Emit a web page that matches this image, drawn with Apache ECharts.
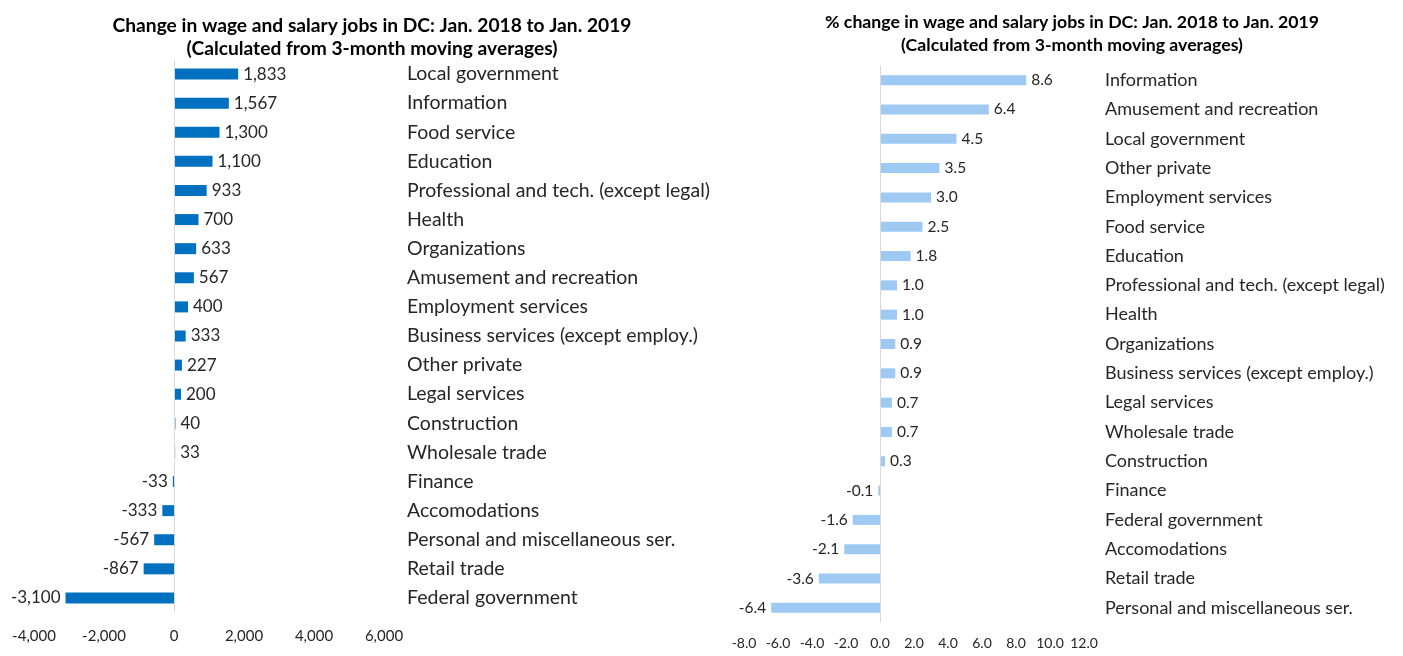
<!DOCTYPE html>
<html>
<head>
<meta charset="utf-8">
<script src="https://cdn.jsdelivr.net/npm/echarts@6/dist/echarts.min.js"></script>
<style>
  html, body { margin: 0; padding: 0; background: #fff; }
  #chart { width: 1403px; height: 656px; }
</style>
</head>
<body>
<div id="chart"></div>
<script>
// Change in jobs, sorted largest to smallest
const jobCategories = [
  'Local government', 'Information', 'Food service', 'Education',
  'Professional and tech. (except legal)', 'Health', 'Organizations',
  'Amusement and recreation', 'Employment services',
  'Business services (except employ.)', 'Other private', 'Legal services',
  'Construction', 'Wholesale trade', 'Finance', 'Accomodations',
  'Personal and miscellaneous ser.', 'Retail trade', 'Federal government'
];
const jobChange = [1833, 1567, 1300, 1100, 933, 700, 633, 567, 400, 333, 227, 200, 40, 33, -33, -333, -567, -867, -3100];
const jobTicks = { min: -4000, max: 6000, interval: 2000 };

// Percent change in jobs, sorted largest to smallest
const pctCategories = [
  'Information', 'Amusement and recreation', 'Local government', 'Other private',
  'Employment services', 'Food service', 'Education',
  'Professional and tech. (except legal)', 'Health', 'Organizations',
  'Business services (except employ.)', 'Legal services', 'Wholesale trade',
  'Construction', 'Finance', 'Federal government', 'Accomodations',
  'Retail trade', 'Personal and miscellaneous ser.'
];
const pctChange = [8.6, 6.4, 4.5, 3.5, 3.0, 2.5, 1.8, 1.0, 1.0, 0.9, 0.9, 0.7, 0.7, 0.3, -0.1, -1.6, -2.1, -3.6, -6.4];
const pctTicks = { min: -8, max: 12, interval: 2 };

const FONT = 'Lato';
const TEXT = '#262626';

function withComma(v) {
  const s = Math.abs(Math.round(v)).toString().replace(/\B(?=(\d{3})+(?!\d))/g, ',');
  return (v < 0 ? '-' : '') + s;
}

function barData(values) {
  return values.map(v => ({
    value: v,
    label: { position: v < 0 ? 'left' : 'right' }
  }));
}

function zeroLine() {
  return {
    silent: true,
    symbol: 'none',
    label: { show: false },
    lineStyle: { color: '#d9d9d9', width: 1, type: 'solid' },
    data: [{ xAxis: 0 }]
  };
}

const chart = echarts.init(document.getElementById('chart'), null, { renderer: 'canvas' });

chart.setOption({
  animation: false,
  backgroundColor: '#ffffff',
  textStyle: { fontFamily: FONT },
  title: [
    {
      text: 'Change in wage and salary jobs in DC: Jan. 2018 to Jan. 2019\n(Calculated from 3-month moving averages)',
      left: 367, top: 9, textAlign: 'center',
      textStyle: { fontFamily: FONT, fontWeight: 'bold', fontSize: 19.2, lineHeight: 23, color: '#000' }
    },
    {
      text: '% change in wage and salary jobs in DC: Jan. 2018 to Jan. 2019\n(Calculated from 3-month moving averages)',
      left: 1067, top: 6, textAlign: 'center',
      textStyle: { fontFamily: FONT, fontWeight: 'bold', fontSize: 17.7, lineHeight: 23, color: '#000' }
    }
  ],
  grid: [
    { left: 34, width: 350, top: 59.5, height: 553 },
    { left: 744, width: 340, top: 65.5, height: 557 }
  ],
  xAxis: [
    {
      gridIndex: 0, type: 'value',
      min: jobTicks.min, max: jobTicks.max, interval: jobTicks.interval,
      axisLine: { show: false }, axisTick: { show: false }, splitLine: { show: false },
      axisLabel: { fontFamily: FONT, fontSize: 15, color: TEXT, margin: 16, formatter: withComma }
    },
    {
      gridIndex: 1, type: 'value',
      min: pctTicks.min, max: pctTicks.max, interval: pctTicks.interval,
      axisLine: { show: false }, axisTick: { show: false }, splitLine: { show: false },
      axisLabel: { fontFamily: FONT, fontSize: 14, color: TEXT, margin: 14, formatter: v => v.toFixed(1) }
    }
  ],
  yAxis: [
    {
      gridIndex: 0, type: 'category', data: jobCategories, inverse: true, position: 'right',
      axisLine: { show: false }, axisTick: { show: false },
      axisLabel: { fontFamily: FONT, fontSize: 19.5, color: TEXT, margin: 23, align: 'left' }
    },
    {
      gridIndex: 1, type: 'category', data: pctCategories, inverse: true, position: 'right',
      axisLine: { show: false }, axisTick: { show: false },
      axisLabel: { fontFamily: FONT, fontSize: 18, color: TEXT, margin: 21, align: 'left' }
    }
  ],
  series: [
    {
      type: 'bar', xAxisIndex: 0, yAxisIndex: 0,
      data: barData(jobChange),
      barWidth: 11,
      itemStyle: { color: '#0070C0' },
      label: {
        show: true, distance: 5, fontFamily: FONT, fontSize: 17, color: TEXT,
        formatter: p => withComma(p.value)
      },
      markLine: zeroLine()
    },
    {
      type: 'bar', xAxisIndex: 1, yAxisIndex: 1,
      data: barData(pctChange),
      barWidth: 10,
      itemStyle: { color: '#9DC9F2' },
      label: {
        show: true, distance: 5, fontFamily: FONT, fontSize: 15.5, color: TEXT,
        formatter: p => p.value.toFixed(1)
      },
      markLine: zeroLine()
    }
  ]
});
</script>
</body>
</html>
